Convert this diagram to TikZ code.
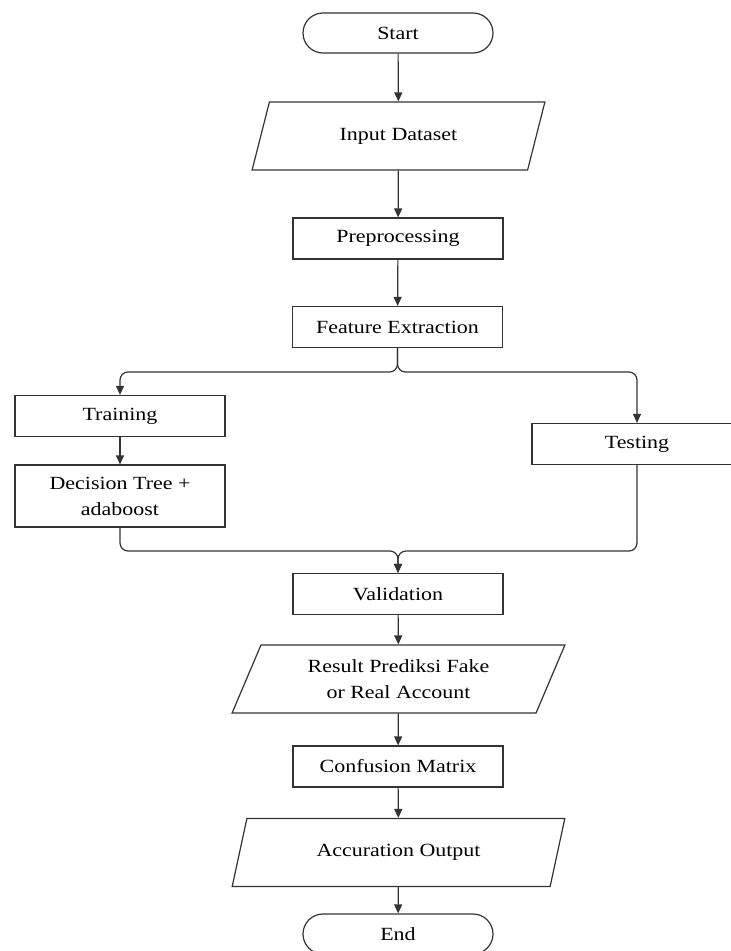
\documentclass[tikz,border=0pt]{standalone}
\usepackage{fontspec}
\setmainfont{Liberation Serif}[FakeStretch=1.18]
\usetikzlibrary{shapes.geometric,shapes.misc,arrows.meta}

\begin{document}
\begin{tikzpicture}[x=1pt,y=-1pt,line width=1.2pt,font=\fontsize{18.6}{26}\selectfont]
	\tikzstyle{term}=[rounded rectangle,draw=black!80,minimum width=190pt,minimum height=40pt,inner sep=0pt]
	\tikzstyle{proc}=[rectangle,draw=black!80,minimum width=210pt,minimum height=41pt,inner sep=0pt,align=center]
	\tikzstyle{io}=[trapezium,trapezium left angle=64,trapezium right angle=116,trapezium stretches=true,draw=black!80,minimum width=293pt,minimum height=68pt,inner sep=0pt,align=center]
	\tikzstyle{flow}=[draw=black!80,-{Triangle[length=9pt,width=8pt]},rounded corners=8pt]
	\useasboundingbox (0,0) rectangle (731,951);

	\node[term] (start) at (398,33) {Start};
	\node[io] (input) at (398.5,136) {Input Dataset};
	\node[proc] (prep) at (398,238.5) {Preprocessing};
	\node[proc] (feat) at (397.5,327) {Feature Extraction};
	\node[proc] (train) at (120,416) {Training};
	\node[proc,minimum height=62pt] (tree) at (120,496) {Decision Tree +\\adaboost};
	\node[proc] (test) at (637,444) {Testing};
	\node[proc] (valid) at (398,594) {Validation};
	\node[io,minimum width=333pt] (result) at (398.5,679) {Result Prediksi Fake\\or Real Account};
	\node[proc] (conf) at (398,766.5) {Confusion Matrix};
	\node[io,minimum width=333pt] (acc) at (398.5,852.5) {Accuration Output};
	\node[term] (end) at (398,934) {End};

	\coordinate (fork) at (397.5,372);
	\coordinate (merge) at (398,551);

	\draw[flow] (start) -- (input);
	\draw[flow] (input) -- (prep);
	\draw[flow] (prep) -- (feat);

	\draw[flow] (feat.south) -- (fork) -| (train.north);
	\draw[flow] (feat.south) -- (fork) -| (test.north);
	\draw[flow] (train) -- (tree);

	\draw[flow] (tree.south) |- (merge) -- (valid.north);
	\draw[flow] (test.south) |- (merge) -- (valid.north);

	\draw[flow] (valid) -- (result);
	\draw[flow] (result) -- (conf);
	\draw[flow] (conf) -- (acc);
	\draw[flow] (acc) -- (end);
\end{tikzpicture}
\end{document}
